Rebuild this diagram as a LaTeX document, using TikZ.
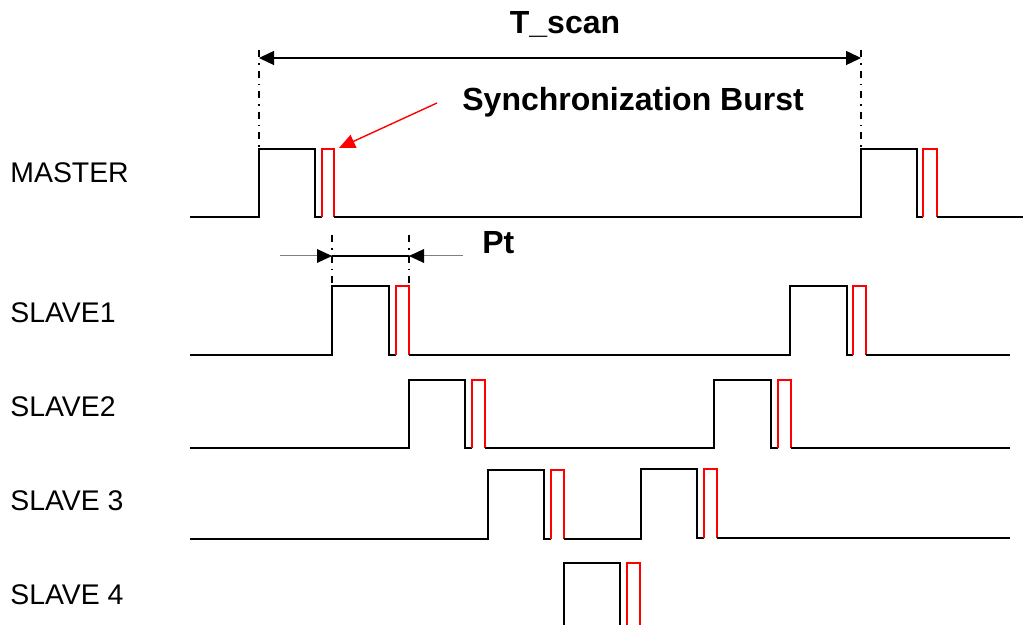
\documentclass[tikz,border=0pt]{standalone}
\usepackage{fontspec}
\setmainfont{Liberation Sans}
\usetikzlibrary{arrows.meta}
\definecolor{burstred}{HTML}{FF0000}
\definecolor{leadgray}{HTML}{808080}

\begin{document}
\begin{tikzpicture}[x=0.5pt,y=-0.5pt]

  % Canvas
  \useasboundingbox (0,0) rectangle (1023,625);
  \clip (0,0) rectangle (1023,625);

  % Styles
  \tikzset{
    every node/.style={font=\fontsize{14.2}{16}\selectfont, inner sep=0pt},
    rowlabel/.style={anchor=base west},
    boldlabel/.style={anchor=base, font=\fontsize{16}{18}\selectfont\bfseries},
    wave/.style={line width=1pt, black},
    burst/.style={line width=1pt, burstred},
    extline/.style={line width=0.8pt, black, dash pattern=on 3.5pt off 3pt on 0.8pt off 3pt},
    dimline/.style={line width=0.7pt, black},
    leadline/.style={line width=0.5pt, leadgray},
    dimtip/.style={-{Triangle[length=7.5pt,width=7pt]}},
    dimtips/.style={{Triangle[length=7.5pt,width=7pt]}-{Triangle[length=7.5pt,width=7pt]}}
  }

  % Row labels
  \node[rowlabel] (master_label) at (10,183) {MASTER};
  \node[rowlabel] (slave1_label) at (10,323) {SLAVE1};
  \node[rowlabel] (slave2_label) at (10,417) {SLAVE2};
  \node[rowlabel] (slave3_label) at (10,510) {SLAVE 3};
  \node[rowlabel] (slave4_label) at (10,604) {SLAVE 4};

  % MASTER
  \draw[wave] (190,217) -- (259,217) -- (259,149) -- (315,149) -- (315,217) -- (322,217);
  \draw[burst] (322,217) -- (322,149) -- (334,149) -- (334,217);
  \draw[wave] (334,217) -- (861,217) -- (861,149) -- (917,149) -- (917,217) -- (923,217);
  \draw[burst] (923,217) -- (923,149) -- (937,149) -- (937,217);
  \draw[wave] (937,217) -- (1023,217);

  % SLAVE1
  \draw[wave] (190,355) -- (332,355) -- (332,286) -- (389,286) -- (389,355) -- (396,355);
  \draw[burst] (396,355) -- (396,286) -- (409,286) -- (409,355);
  \draw[wave] (409,355) -- (790,355) -- (790,286) -- (847,286) -- (847,355) -- (853,355);
  \draw[burst] (853,355) -- (853,286) -- (866,286) -- (866,355);
  \draw[wave] (866,355) -- (1010,355);

  % SLAVE2
  \draw[wave] (190,448) -- (409,448) -- (409,380) -- (465,380) -- (465,448) -- (472,448);
  \draw[burst] (472,448) -- (472,380) -- (485,380) -- (485,448);
  \draw[wave] (485,448) -- (714,448) -- (714,380) -- (771,380) -- (771,448) -- (778,448);
  \draw[burst] (778,448) -- (778,380) -- (791,380) -- (791,448);
  \draw[wave] (791,448) -- (1010,448);

  % SLAVE 3
  \draw[wave] (190,539) -- (488,539) -- (488,470) -- (544,470) -- (544,539) -- (551,539);
  \draw[burst] (551,539) -- (551,470) -- (564,470) -- (564,539);
  \draw[wave] (564,539) -- (641,539) -- (641,469) -- (697,469) -- (697,538) -- (704,538);
  \draw[burst] (704,538) -- (704,469) -- (717,469) -- (717,538);
  \draw[wave] (717,538) -- (1010,538);

  % SLAVE 4
  \draw[wave] (564,640) -- (564,563) -- (620,563) -- (620,640);
  \draw[burst] (627,640) -- (627,563) -- (640,563) -- (640,640);

  % T_scan dimension
  \coordinate (tscan_left) at (259,58);
  \coordinate (tscan_right) at (861,58);
  \coordinate (tscan_left_foot) at (259,149);
  \coordinate (tscan_right_foot) at (861,149);
  \draw[extline] (259,50) -- (tscan_left_foot);
  \draw[extline] (861,50) -- (tscan_right_foot);
  \draw[dimline, dimtips] (tscan_left) -- (tscan_right);
  \node[boldlabel] (tscan_label) at (565,34) {T\_scan};

  % Synchronization burst callout
  \node[boldlabel, anchor=base west] (sync_label) at (462,111) {Synchronization Burst};
  \coordinate (sync_start) at (437,103);
  \coordinate (sync_tip) at (339,148);
  \draw[burst, line width=0.7pt, -{Triangle[length=8pt,width=7pt]}] (sync_start) -- (sync_tip);

  % Pt dimension
  \coordinate (pt_left) at (332,256);
  \coordinate (pt_right) at (409,256);
  \coordinate (pt_lead_left) at (280,256);
  \coordinate (pt_lead_right) at (463,256);
  \draw[extline] (332,235) -- (332,286);
  \draw[extline] (409,235) -- (409,286);
  \draw[dimline] (pt_left) -- (pt_right);
  \draw[leadline] (pt_lead_left) -- (pt_left);
  \draw[leadline] (pt_lead_right) -- (pt_right);
  \fill[black] (pt_left) -- ++(-15,-7) -- ++(0,14) -- cycle;
  \fill[black] (pt_right) -- ++(15,-7) -- ++(0,14) -- cycle;
  \node[boldlabel, anchor=base west] (pt_label) at (482,254) {Pt};

\end{tikzpicture}
\end{document}
